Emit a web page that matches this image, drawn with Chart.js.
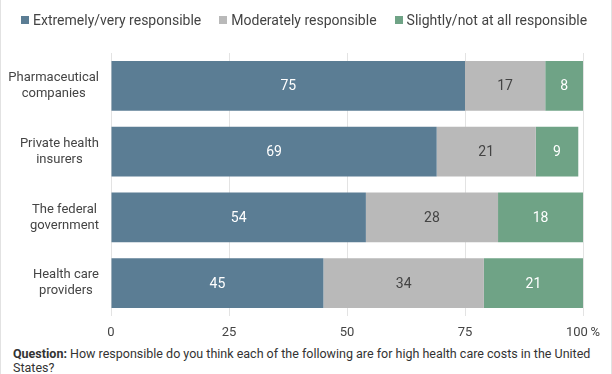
<!DOCTYPE html>
<html>
<head>
<meta charset="utf-8">
<script src="https://cdn.jsdelivr.net/npm/chart.js@4.4.1/dist/chart.umd.min.js"></script>
<style>
  body { margin: 0; background: #fff; }
  #wrap { position: relative; width: 610px; height: 374px; border-left: 1px solid #e2e2e2; border-right: 1px solid #e2e2e2; font-family: Roboto, sans-serif; overflow: hidden; }
  #legend { position: absolute; top: 12px; left: 20px; font-size: 14px; color: #444; white-space: nowrap; }
  #legend span.item { margin-right: 18px; }
  #legend span.box { display: inline-block; width: 8px; height: 8px; margin-right: 4px; vertical-align: 1px; }
  #note { position: absolute; top: 347px; left: 12px; width: 585px; font-size: 12.5px; line-height: 14px; color: #333; }
  canvas { position: absolute; top: 0; left: 0; }
</style>
</head>
<body>
<div id="wrap">
  <canvas id="chart" width="610" height="345"></canvas>
  <div id="legend"></div>
  <div id="note"><b>Question:</b> How responsible do you think each of the following are for high health care costs in the United States?</div>
</div>
<script>
var categories = [
  ["Pharmaceutical", "companies"],
  ["Private health", "insurers"],
  ["The federal", "government"],
  ["Health care", "providers"]
]
var seriesNames = ["Extremely/very responsible", "Moderately responsible", "Slightly/not at all responsible"]
var extremely = [75, 69, 54, 45]
var moderately = [17, 21, 28, 34]
var slightly = [8, 9, 18, 21]
var xTicks = [0, 25, 50, 75, 100]

var colors = ["#5b7d94", "#b9b9b9", "#6fa386"]
var labelColors = ["#ffffff", "#444444", "#ffffff"]

// html legend
var legend = document.getElementById("legend")
seriesNames.forEach(function(name, i){
  legend.innerHTML += '<span class="item"><span class="box" style="background:' + colors[i] + '"></span>' + name + '</span>'
})

// values inside bars + centered y labels
var barText = {
  id: "barText",
  afterDatasetsDraw: function(chart){
    var ctx = chart.ctx
    ctx.save()
    ctx.font = "14px Roboto"
    ctx.textAlign = "center"
    ctx.textBaseline = "middle"
    chart.data.datasets.forEach(function(ds, di){
      chart.getDatasetMeta(di).data.forEach(function(bar, i){
        ctx.fillStyle = labelColors[di]
        ctx.fillText(ds.data[i], (bar.x + bar.base) / 2, bar.y + 1)
      })
    })
    // category labels, each centred on itself, right edge near the axis
    var y = chart.scales.y
    ctx.font = "13px Roboto"
    ctx.fillStyle = "#444"
    categories.forEach(function(lines, i){
      var w = Math.max.apply(null, lines.map(function(l){ return ctx.measureText(l).width }))
      var cx = chart.chartArea.left - 12 - w / 2
      var cy = y.getPixelForValue(i)
      lines.forEach(function(l, k){
        ctx.fillText(l, cx, cy + (k - (lines.length - 1) / 2) * 16)
      })
    })
    ctx.restore()
  }
}

var newchart = new Chart(document.getElementById("chart").getContext("2d"), {
  type: "bar",
  data: {
    labels: categories,
    datasets: [
      { label: seriesNames[0], data: extremely, backgroundColor: colors[0] },
      { label: seriesNames[1], data: moderately, backgroundColor: colors[1] },
      { label: seriesNames[2], data: slightly, backgroundColor: colors[2] }
    ]
  },
  options: {
    indexAxis: "y",
    responsive: false,
    animation: false,
    devicePixelRatio: 1,
    barPercentage: 0.76,
    categoryPercentage: 1,
    layout: { padding: { top: 53, right: 28, left: 0, bottom: 0 } },
    plugins: { legend: { display: false }, tooltip: { enabled: false } },
    scales: {
      x: {
        stacked: true,
        min: 0,
        max: 100,
        afterBuildTicks: function(s){ s.ticks = xTicks.map(function(v){ return { value: v } }) },
        afterFit: function(s){ s.height = 29 },
        ticks: {
          font: { family: "Roboto", size: 13 },
          color: "#444",
          padding: 9,
          callback: function(v){ return v === 100 ? "100\u2009%" : v }
        },
        grid: { color: "#e3e3e3", drawTicks: false },
        border: { display: false }
      },
      y: {
        stacked: true,
        afterFit: function(s){ s.width = 110 },
        ticks: { display: false },
        grid: { display: false },
        border: { display: false }
      }
    }
  },
  plugins: [barText]
})
</script>
</body>
</html>
